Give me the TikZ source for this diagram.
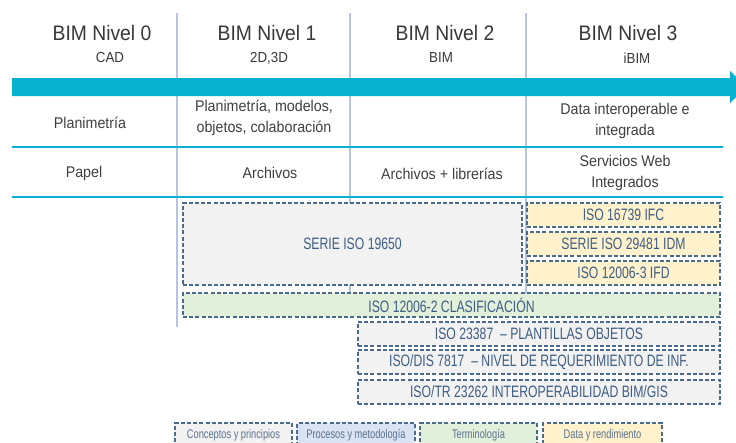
\documentclass[tikz,border=0pt]{standalone}
\usepackage{fontspec}
\setmainfont{Liberation Sans}[FakeStretch=0.92]
\newfontfamily\condfont[FakeStretch=0.74]{Liberation Sans}

\definecolor{flow}{HTML}{05B1CE}
\definecolor{gridline}{HTML}{B4C4E4}
\definecolor{edge}{HTML}{4A6A8E}
\definecolor{isotext}{HTML}{3E5E84}
\definecolor{legendtext}{HTML}{5C7290}
\definecolor{fillgray}{HTML}{F2F2F2}
\definecolor{fillblue}{HTML}{DAE3F3}
\definecolor{fillgreen}{HTML}{E2EFDA}
\definecolor{fillorange}{HTML}{FFF2CC}
\definecolor{headtext}{HTML}{383838}
\definecolor{celltext}{HTML}{404040}

\tikzset{
  level/.style={text=headtext, font=\fontsize{21}{24}\selectfont, inner sep=0pt},
  sublevel/.style={text=headtext, font=\fontsize{14.5}{17}\selectfont, inner sep=0pt},
  cell/.style={text=celltext, font=\fontsize{15.5}{20.5}\selectfont, align=center, inner sep=0pt},
  divider/.style={draw=gridline, line width=1.4pt},
  rowline/.style={draw=flow, line width=2.4pt},
  isobox/.style={draw=edge, line width=1.3pt, dash pattern=on 4pt off 2.2pt,
    text=isotext, font=\condfont\fontsize{16.5}{18}\selectfont, inner sep=0pt, outer sep=0pt},
  legendbox/.style={draw=edge, line width=1.1pt, dash pattern=on 4pt off 2.2pt,
    text=legendtext, font=\condfont\fontsize{12.5}{14}\selectfont, inner sep=0pt, outer sep=0pt},
}

\begin{document}
\begin{tikzpicture}[x=1pt,y=-1pt]
\useasboundingbox (0,0) rectangle (736,442);
\clip (0,0) rectangle (736,442);
\fill[white] (0,0) rectangle (736,442);

% column dividers
\coordinate (d0t) at (177,13);  \coordinate (d0b) at (177,327);
\coordinate (d1t) at (350,13);  \coordinate (d1b) at (350,293);
\coordinate (d2t) at (526,13);  \coordinate (d2b) at (526,293);
\draw[divider] (d0t) -- (d0b);
\draw[divider] (d1t) -- (d1b);
\draw[divider] (d2t) -- (d2b);

% timeline arrow
\fill[flow] (12,78) -- (730,78) -- (730,71) -- (746,87) -- (730,103)
  -- (730,96) -- (12,96) -- cycle;

% row separators
\coordinate (r1l) at (12,147); \coordinate (r1r) at (723,147);
\coordinate (r2l) at (12,197); \coordinate (r2r) at (723,197);
\draw[rowline] (r1l) -- (r1r);
\draw[rowline] (r2l) -- (r2r);

% level headings
\node[level] (n0) at (102,32.5) {BIM Nivel 0};
\node[sublevel] (s0) at (110,58) {CAD};
\node[level] (n1) at (267,32.5) {BIM Nivel 1};
\node[sublevel] (s1) at (269,58) {2D,3D};
\node[level] (n2) at (445,32.5) {BIM Nivel 2};
\node[sublevel] (s2) at (441,58) {BIM};
\node[level] (n3) at (628,32.5) {BIM Nivel 3};
\node[sublevel] (s3) at (637,58) {iBIM};

% first row
\node[cell] (a0) at (90,123) {Planimetría};
\node[cell] (a1) at (264,118) {Planimetría, modelos,\\objetos, colaboración};
\node[cell] (a3) at (625,121) {Data interoperable e\\integrada};

% second row
\node[cell] (b0) at (84,173) {Papel};
\node[cell] (b1) at (270,173) {Archivos};
\node[cell] (b2) at (442,174) {Archivos + librerías};
\node[cell] (b3) at (625,173) {Servicios Web\\Integrados};

% standards
\node[isobox, fill=fillgray, minimum width=339pt, minimum height=82pt]
  (iso19650) at (352.5,244) {SERIE ISO 19650};
\node[isobox, fill=fillorange, minimum width=193pt, minimum height=24pt]
  (iso16739) at (623.5,215) {ISO 16739 IFC};
\node[isobox, fill=fillorange, minimum width=193pt, minimum height=24pt]
  (iso29481) at (623.5,244) {SERIE ISO 29481 IDM};
\node[isobox, fill=fillorange, minimum width=193pt, minimum height=24pt]
  (iso12006c) at (623.5,273) {ISO 12006-3 IFD};
\node[isobox, fill=fillgreen, minimum width=537pt, minimum height=24pt]
  (iso12006b) at (451.5,305) {ISO 12006-2 CLASIFICACIÓN};
\node[isobox, fill=fillgray, minimum width=362pt, minimum height=24pt]
  (iso23387) at (539,334) {ISO 23387 \ – PLANTILLAS OBJETOS};
\node[isobox, fill=fillgray, minimum width=362pt, minimum height=24pt]
  (iso7817) at (539,362) {ISO/DIS 7817 \ – NIVEL DE REQUERIMIENTO DE INF.};
\node[isobox, fill=fillgray, minimum width=362pt, minimum height=24pt]
  (iso23262) at (539,392) {ISO/TR 23262 INTEROPERABILIDAD BIM/GIS};

% legend
\node[legendbox, fill=fillgray, minimum width=117pt, minimum height=30pt]
  (lg1) at (233.5,438) {};
\node[legendbox, fill=fillblue, minimum width=118pt, minimum height=30pt]
  (lg2) at (356,438) {};
\node[legendbox, fill=fillgreen, minimum width=117pt, minimum height=30pt]
  (lg3) at (478.5,438) {};
\node[legendbox, fill=fillorange, minimum width=119pt, minimum height=30pt]
  (lg4) at (602.5,438) {};
\node[legendbox, draw=none] (lt1) at (233.5,435) {Conceptos y principios};
\node[legendbox, draw=none] (lt2) at (356,435) {Procesos y metodología};
\node[legendbox, draw=none] (lt3) at (478.5,435) {Terminología};
\node[legendbox, draw=none] (lt4) at (602.5,435) {Data y rendimiento};
\end{tikzpicture}
\end{document}
